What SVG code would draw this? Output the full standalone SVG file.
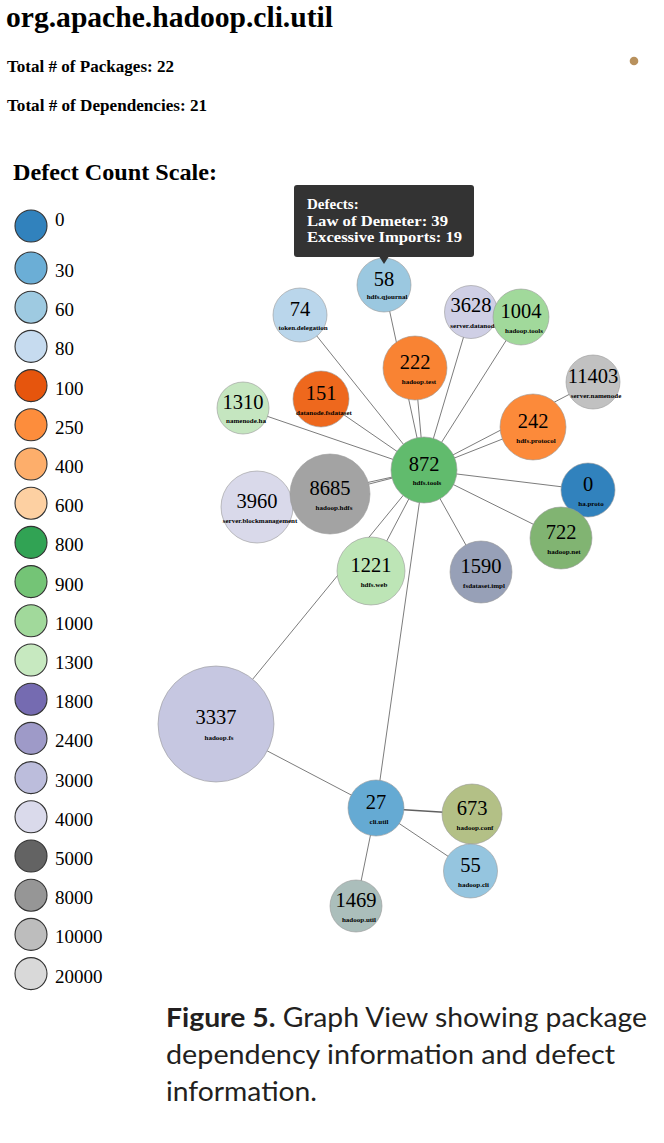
<svg xmlns="http://www.w3.org/2000/svg" width="664" height="1143" viewBox="0 0 664 1143">
<style>
.h{font-family:"Liberation Serif","Times New Roman",serif;font-weight:bold;fill:#000}
.lg{font-family:"Liberation Serif","Times New Roman",serif;font-size:19px;fill:#000}
.lc{stroke:#333;stroke-width:1.1}
.e{stroke:#222;stroke-width:0.7;stroke-opacity:0.85;fill:none}
.n circle{stroke:#999;stroke-width:0.6}
.num{font-family:"Liberation Serif","Times New Roman",serif;font-size:20.5px;text-anchor:middle;fill:#000}
.lab{font-family:"Liberation Serif","Times New Roman",serif;font-size:7px;font-weight:bold;text-anchor:middle;fill:#000}
.tt{font-family:"Liberation Serif","Times New Roman",serif;font-size:15px;font-weight:bold;fill:#fff}
.cap{font-family:Lato,"Open Sans",sans-serif;font-size:26px;fill:#231f20}
</style>
<rect width="664" height="1143" fill="#fff"/>

<g id="header">
<text class="h" x="6" y="27" font-size="28.5" textLength="327" lengthAdjust="spacingAndGlyphs">org.apache.hadoop.cli.util</text>
<text class="h" x="7" y="72" font-size="16.8" textLength="167" lengthAdjust="spacingAndGlyphs">Total # of Packages: 22</text>
<text class="h" x="7" y="111" font-size="16.8" textLength="200" lengthAdjust="spacingAndGlyphs">Total # of Dependencies: 21</text>
</g>

<g id="legend">
<text class="h" x="13" y="180" font-size="24" textLength="204" lengthAdjust="spacingAndGlyphs">Defect Count Scale:</text>
<circle class="lc" cx="31" cy="226" r="16" fill="#3182bd"/><text class="lg" x="55" y="226">0</text>
<circle class="lc" cx="31" cy="268" r="16" fill="#6baed6"/><text class="lg" x="55" y="277">30</text>
<circle class="lc" cx="31" cy="307.2" r="16" fill="#9ecae1"/><text class="lg" x="55" y="316.2">60</text>
<circle class="lc" cx="31" cy="346.4" r="16" fill="#c6dbef"/><text class="lg" x="55" y="355.4">80</text>
<circle class="lc" cx="31" cy="385.6" r="16" fill="#e6550d"/><text class="lg" x="55" y="394.6">100</text>
<circle class="lc" cx="31" cy="424.8" r="16" fill="#fd8d3c"/><text class="lg" x="55" y="433.8">250</text>
<circle class="lc" cx="31" cy="464" r="16" fill="#fdae6b"/><text class="lg" x="55" y="473">400</text>
<circle class="lc" cx="31" cy="503.2" r="16" fill="#fdd0a2"/><text class="lg" x="55" y="512.2">600</text>
<circle class="lc" cx="31" cy="542.4" r="16" fill="#31a354"/><text class="lg" x="55" y="551.4">800</text>
<circle class="lc" cx="31" cy="581.6" r="16" fill="#74c476"/><text class="lg" x="55" y="590.6">900</text>
<circle class="lc" cx="31" cy="620.8" r="16" fill="#a1d99b"/><text class="lg" x="55" y="629.8">1000</text>
<circle class="lc" cx="31" cy="660" r="16" fill="#c7e9c0"/><text class="lg" x="55" y="669">1300</text>
<circle class="lc" cx="31" cy="699.2" r="16" fill="#756bb1"/><text class="lg" x="55" y="708.2">1800</text>
<circle class="lc" cx="31" cy="738.4" r="16" fill="#9e9ac8"/><text class="lg" x="55" y="747.4">2400</text>
<circle class="lc" cx="31" cy="777.6" r="16" fill="#bcbddc"/><text class="lg" x="55" y="786.6">3000</text>
<circle class="lc" cx="31" cy="816.8" r="16" fill="#dadaeb"/><text class="lg" x="55" y="825.8">4000</text>
<circle class="lc" cx="31" cy="856" r="16" fill="#636363"/><text class="lg" x="55" y="865">5000</text>
<circle class="lc" cx="31" cy="895.2" r="16" fill="#969696"/><text class="lg" x="55" y="904.2">8000</text>
<circle class="lc" cx="31" cy="934.4" r="16" fill="#bdbdbd"/><text class="lg" x="55" y="943.4">10000</text>
<circle class="lc" cx="31" cy="973.6" r="16" fill="#d9d9d9"/><text class="lg" x="55" y="982.6">20000</text>
</g>

<g id="connectors">
<line class="e" x1="424" y1="470" x2="384" y2="285"/>
<line class="e" x1="424" y1="470" x2="415" y2="368"/>
<line class="e" x1="424" y1="470" x2="300" y2="315"/>
<line class="e" x1="424" y1="470" x2="471" y2="312"/>
<line class="e" x1="424" y1="470" x2="521" y2="317"/>
<line class="e" x1="424" y1="470" x2="593" y2="382"/>
<line class="e" x1="424" y1="470" x2="533" y2="427"/>
<line class="e" x1="424" y1="470" x2="243" y2="408"/>
<line class="e" x1="424" y1="470" x2="321" y2="399"/>
<line class="e" x1="424" y1="470" x2="330" y2="494"/>
<line class="e" x1="424" y1="470" x2="257" y2="507"/>
<line class="e" x1="424" y1="470" x2="588" y2="490"/>
<line class="e" x1="424" y1="470" x2="561" y2="538"/>
<line class="e" x1="424" y1="470" x2="481" y2="572"/>
<line class="e" x1="424" y1="470" x2="371" y2="571"/>
<line class="e" x1="424" y1="470" x2="216" y2="724"/>
<line class="e" x1="424" y1="470" x2="376" y2="808"/>
<line class="e" x1="376" y1="808" x2="216" y2="724"/>
<line class="e" x1="376" y1="808" x2="472" y2="814" style="stroke-width:1.5;stroke:#444"/>
<line class="e" x1="376" y1="808" x2="470" y2="871"/>
<line class="e" x1="376" y1="808" x2="356" y2="906"/>
<line class="e" x1="469" y1="814" x2="469" y2="871" style="stroke:#888"/>
</g>

<g id="node-58" class="n"><circle cx="384" cy="285" r="27" fill="#9bc8e0"/><text class="num" x="384" y="286">58</text><text class="lab" x="387" y="299">hdfs.qjournal</text></g>
<g id="node-74" class="n"><circle cx="300" cy="315" r="27" fill="#bad6eb"/><text class="num" x="300" y="316">74</text><text class="lab" x="303" y="330">token.delegation</text></g>
<g id="node-3628" class="n"><circle cx="471" cy="312" r="26.5" fill="#cfcfe5"/><text class="num" x="471" y="312">3628</text><text class="lab" x="474" y="328">server.datanode</text></g>
<g id="node-1004" class="n"><circle cx="521" cy="317" r="28" fill="#a1d99b"/><text class="num" x="521" y="318">1004</text><text class="lab" x="524" y="333">hadoop.tools</text></g>
<g id="node-222" class="n"><circle cx="415" cy="368" r="32" fill="#f98333"/><text class="num" x="415" y="369">222</text><text class="lab" x="419" y="384">hadoop.test</text></g>
<g id="node-11403" class="n"><circle cx="593" cy="382" r="27" fill="#c1c1c1"/><text class="num" x="593" y="383">11403</text><text class="lab" x="596" y="398">server.namenode</text></g>
<g id="node-1310" class="n"><circle cx="243" cy="408" r="26" fill="#c5e6c0"/><text class="num" x="243" y="409">1310</text><text class="lab" x="246" y="423">namenode.ha</text></g>
<g id="node-151" class="n"><circle cx="321" cy="399" r="28" fill="#ee681d"/><text class="num" x="321" y="400">151</text><text class="lab" x="324" y="415">datanode.fsdataset</text></g>
<g id="node-242" class="n"><circle cx="533" cy="427" r="33" fill="#fc8a3a"/><text class="num" x="533" y="428">242</text><text class="lab" x="536" y="443">hdfs.protocol</text></g>
<g id="node-872" class="n"><circle cx="424" cy="470" r="33" fill="#61bb6d"/><text class="num" x="424" y="471">872</text><text class="lab" x="427" y="485">hdfs.tools</text></g>
<g id="node-3960" class="n"><circle cx="257" cy="507" r="36" fill="#d9d9ea"/><text class="num" x="257" y="508">3960</text><text class="lab" x="260" y="523">server.blockmanagement</text></g>
<g id="node-8685" class="n"><circle cx="330" cy="494" r="40" fill="#a3a3a3"/><text class="num" x="330" y="495">8685</text><text class="lab" x="334" y="510">hadoop.hdfs</text></g>
<g id="node-0" class="n"><circle cx="588" cy="490" r="27" fill="#3182bd"/><text class="num" x="588" y="491">0</text><text class="lab" x="591" y="506">ha.proto</text></g>
<g id="node-722" class="n"><circle cx="561" cy="538" r="31" fill="#81b472"/><text class="num" x="561" y="539">722</text><text class="lab" x="564" y="554">hadoop.net</text></g>
<g id="node-1221" class="n"><circle cx="371" cy="571" r="34" fill="#bde5b6"/><text class="num" x="371" y="572">1221</text><text class="lab" x="374" y="587">hdfs.web</text></g>
<g id="node-1590" class="n"><circle cx="481" cy="572" r="31" fill="#97a0b7"/><text class="num" x="481" y="573">1590</text><text class="lab" x="484" y="588">fsdataset.impl</text></g>
<g id="node-3337" class="n"><circle cx="216" cy="724" r="58" fill="#c6c7e1"/><text class="num" x="216" y="724">3337</text><text class="lab" x="219" y="740">hadoop.fs</text></g>
<g id="node-27" class="n"><circle cx="376" cy="808" r="28" fill="#65aad3"/><text class="num" x="376" y="809">27</text><text class="lab" x="379" y="824">cli.util</text></g>
<g id="node-673" class="n"><circle cx="472" cy="814" r="30" fill="#b3c086"/><text class="num" x="472" y="815">673</text><text class="lab" x="475" y="830">hadoop.conf</text></g>
<g id="node-55" class="n"><circle cx="470.5" cy="871" r="27" fill="#95c5df"/><text class="num" x="470.5" y="872">55</text><text class="lab" x="473.5" y="887">hadoop.cli</text></g>
<g id="node-1469" class="n"><circle cx="356" cy="906" r="26" fill="#abbebb"/><text class="num" x="356" y="907">1469</text><text class="lab" x="359" y="922">hadoop.util</text></g>
<g id="node-extra" class="n"><circle cx="634" cy="61" r="4.3" fill="#b8915d" style="stroke:none"/></g>

<g id="tooltip">
<rect x="294" y="185" width="180" height="72" rx="3" fill="#333"/>
<polygon points="379.5,257 388.5,257 384,264" fill="#333"/>
<text class="tt" x="307" y="209">Defects:</text>
<text class="tt" x="307" y="225.5" textLength="141" lengthAdjust="spacingAndGlyphs">Law of Demeter: 39</text>
<text class="tt" x="307" y="242" textLength="155" lengthAdjust="spacingAndGlyphs">Excessive Imports: 19</text>
</g>

<g id="caption">
<text class="cap" x="166" y="1027" textLength="481" lengthAdjust="spacingAndGlyphs"><tspan font-weight="bold">Figure 5.</tspan> Graph View showing package</text>
<text class="cap" x="166" y="1064" textLength="449" lengthAdjust="spacingAndGlyphs">dependency information and defect</text>
<text class="cap" x="166" y="1101" textLength="151" lengthAdjust="spacingAndGlyphs">information.</text>
</g>
</svg>
